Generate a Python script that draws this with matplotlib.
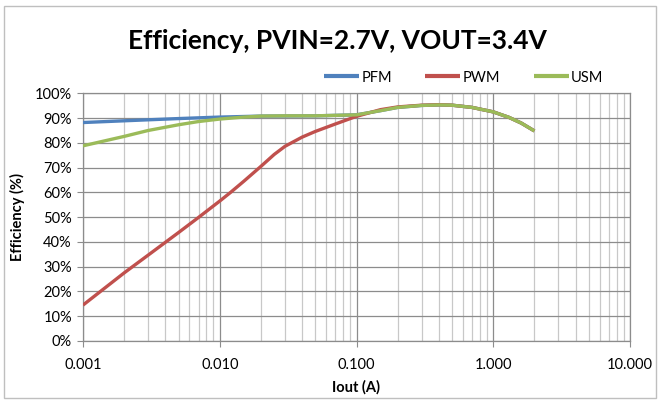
import matplotlib
matplotlib.use("Agg")
import matplotlib.pyplot as plt
from matplotlib.ticker import FixedLocator, LogLocator, NullFormatter
from matplotlib.patches import Rectangle

# Data (Iout in A, efficiency in %)
pfm_x = [0.001, 0.002, 0.003, 0.005, 0.01, 0.02, 0.05, 0.1, 0.15, 0.2, 0.3, 0.4, 0.5, 0.7, 1.0, 1.3, 1.6, 2.0]
pfm_y = [88.2, 88.9, 89.3, 89.8, 90.4, 90.8, 90.9, 91.3, 93.0, 94.3, 95.1, 95.3, 95.2, 94.3, 92.5, 90.3, 88.0, 84.8]

pwm_x = [0.001, 0.002, 0.003, 0.005, 0.007, 0.01, 0.012, 0.015, 0.02, 0.025, 0.03, 0.04, 0.05, 0.07, 0.1, 0.15, 0.2, 0.3, 0.4, 0.5, 0.7, 1.0, 1.3, 1.6, 2.0]
pwm_y = [14.5, 27.5, 34.7, 43.8, 49.9, 56.5, 60.0, 64.5, 70.5, 75.3, 78.6, 82.3, 84.6, 87.6, 90.7, 93.4, 94.5, 95.2, 95.4, 95.2, 94.3, 92.5, 90.3, 88.0, 84.8]

usm_x = [0.001, 0.002, 0.003, 0.005, 0.007, 0.01, 0.015, 0.02, 0.03, 0.05, 0.1, 0.15, 0.2, 0.3, 0.4, 0.5, 0.7, 1.0, 1.3, 1.6, 2.0]
usm_y = [78.8, 82.6, 85.0, 87.3, 88.6, 89.6, 90.4, 90.8, 90.9, 90.9, 91.3, 93.0, 94.3, 95.1, 95.3, 95.2, 94.3, 92.5, 90.3, 88.0, 84.8]

x_ticks = [0.001, 0.01, 0.1, 1.0, 10.0]
x_ticklabels = ["0.001", "0.010", "0.100", "1.000", "10.000"]
y_ticks = list(range(0, 101, 10))

title = "Efficiency, PVIN=2.7V, VOUT=3.4V"

plt.rcParams['font.family'] = ["Lato", "DejaVu Sans"]

fig = plt.figure(figsize=(6.6, 4.03), dpi=100)
ax = fig.add_axes([83/660, 1 - 341/403, (630-83)/660, (341-93.3)/403])

blue = "#4F81BD"
red = "#C0504D"
green = "#9BBB59"
lw = 2.4

ax.plot(pfm_x, pfm_y, color=blue, lw=lw, label="PFM", solid_capstyle="butt", solid_joinstyle="round", zorder=3)
ax.plot(pwm_x, pwm_y, color=red, lw=lw, label="PWM", solid_capstyle="butt", solid_joinstyle="round", zorder=4)
ax.plot(usm_x, usm_y, color=green, lw=lw, label="USM", solid_capstyle="butt", solid_joinstyle="round", zorder=5)

ax.set_xscale("log")
ax.set_xlim(0.001, 10)
ax.set_ylim(0, 100)
ax.xaxis.set_major_locator(FixedLocator(x_ticks))
ax.set_xticklabels(x_ticklabels)
ax.xaxis.set_minor_locator(LogLocator(base=10, subs=range(2, 10)))
ax.xaxis.set_minor_formatter(NullFormatter())
ax.set_yticks(y_ticks)
ax.set_yticklabels([f"{v}%" for v in y_ticks])

ax.grid(True, which="major", axis="both", color="#8c8c8c", lw=0.9, zorder=0)
ax.grid(True, which="minor", axis="x", color="#c8c8c8", lw=0.9, zorder=0)
ax.set_axisbelow(True)

for s in ax.spines.values():
    s.set_color("#8c8c8c")
    s.set_linewidth(0.9)

ax.tick_params(axis="both", which="major", direction="out", length=4, color="#8c8c8c",
               labelsize=10.5, pad=4, labelcolor="black")
ax.tick_params(axis="x", which="minor", length=0)
ax.tick_params(axis="x", which="major", pad=8)

ax.set_xlabel("Iout (A)", fontsize=10.5, fontweight="bold", labelpad=6)
ax.set_ylabel("Efficiency (%)", fontsize=10.5, fontweight="bold", labelpad=7)

fig.text(337/660, 1 - 41/403, title, ha="center", va="center", fontsize=19, fontweight="bold",
         family=["Liberation Sans Narrow", "Lato"])

leg = ax.legend(loc="lower right", bbox_to_anchor=(0.967, 1.0), ncol=3, frameon=False,
                fontsize=10.5, handlelength=2.4, handletextpad=0.15, columnspacing=2.3,
                borderaxespad=0.2)
for h in leg.get_lines():
    h.set_linewidth(3)

fig.patches.append(Rectangle((4/660, 1 - 398/403), 652/660, 392/403, transform=fig.transFigure,
                             fill=False, edgecolor="#bfbfbf", lw=1.0))

fig.savefig("out.png", dpi=100)
